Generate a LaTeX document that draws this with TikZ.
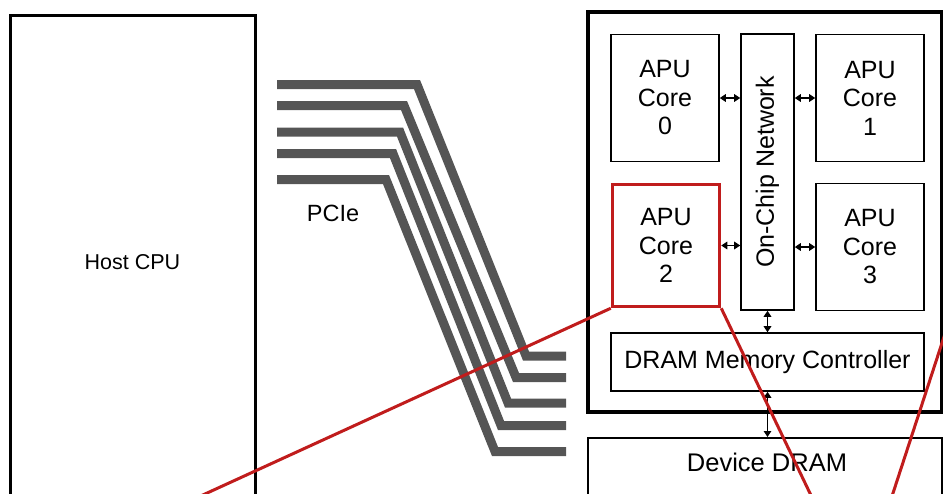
\documentclass[tikz,border=0pt]{standalone}
\usepackage{fontspec}
\setmainfont{Liberation Sans}
\usepackage{tikz}
\usetikzlibrary{arrows.meta, positioning, calc}
\definecolor{wiregray}{RGB}{85,85,85}
\definecolor{zoomred}{RGB}{192,28,28}

\begin{document}
\begin{tikzpicture}[x=1pt, y=-1pt,
  box/.style={draw, line width=1.6pt, minimum width=108pt, minimum height=127pt, inner sep=0pt, align=center, font=\fontsize{25}{28.5}\selectfont},
  dbl/.style={{Triangle[length=6pt,width=7.5pt]}-{Triangle[length=6pt,width=7.5pt]}, line width=1.6pt},
  wire/.style={wiregray, line width=9pt},
  zoomline/.style={zoomred, line width=3pt}
]
  \useasboundingbox (0,0) rectangle (943,493);
  \clip (0,0) rectangle (943,493);

  % host side
  \node[draw, line width=3pt, minimum width=245pt, minimum height=495pt, font=\fontsize{21.5}{24}\selectfont] (host) at (132.5,262.5) {Host CPU};

  % accelerator
  \node[draw, line width=3.5pt, minimum width=354pt, minimum height=400pt] (apu) at (765,212) {};
  \node[box] (core0) at (665,98) {APU\\Core\\0};
  \node[box, minimum width=53pt, minimum height=276pt] (net) at (767.5,172) {\rotatebox{90}{On-Chip Network}};
  \node[box] (core1) at (870,98) {APU\\Core\\1};
  \node[box, draw=zoomred, line width=3.5pt, minimum width=107pt, minimum height=122pt] (core2) at (666,245.5) {APU\\Core\\2};
  \node[box] (core3) at (870,247) {APU\\Core\\3};
  \node[box, minimum width=313pt, minimum height=58pt] (mc) at (767.5,362) {DRAM Memory Controller};
  \node[draw, line width=1.6pt, minimum width=354pt, minimum height=100pt, anchor=north] (dram) at (765,437) {};
  \node[font=\fontsize{25.5}{28.5}\selectfont] (dramtext) at (767,462.5) {Device DRAM};

  \draw[dbl] (core0.east) -- (core0.east -| net.west);
  \draw[dbl] (core1.west -| net.east) -- (core1.west);
  \draw[dbl] (core2.east) -- (core2.east -| net.west);
  \draw[dbl] (core3.west -| net.east) -- (core3.west);
  \draw[dbl] (net.south) -- (mc.north);
  \draw[dbl] (mc.south) -- (mc.south |- dram.north);

  % PCIe lanes
  \foreach \ys/\xa/\xb/\ye in {84.5/417/526/356, 105.5/404/516/377.5, 132/400/508/403, 153.5/393/501/425.5, 179.5/386/495/451.5}
    \draw[wire] (277,\ys) -- (\xa,\ys) -- (\xb,\ye) -- (566,\ye);
  \node[font=\fontsize{23.5}{26}\selectfont] (pcie) at (333,213) {PCIe};

  % zoom callout
  \coordinate (zoomL) at (170,510);
  \coordinate (zoomR) at (818,510);
  \coordinate (edgeA) at (956,300);
  \coordinate (edgeB) at (887.5,510);
  \draw[zoomline] (core2.south west) -- (zoomL);
  \draw[zoomline] (core2.south east) -- (zoomR);
  \draw[zoomline] (edgeA) -- (edgeB);
\end{tikzpicture}
\end{document}
